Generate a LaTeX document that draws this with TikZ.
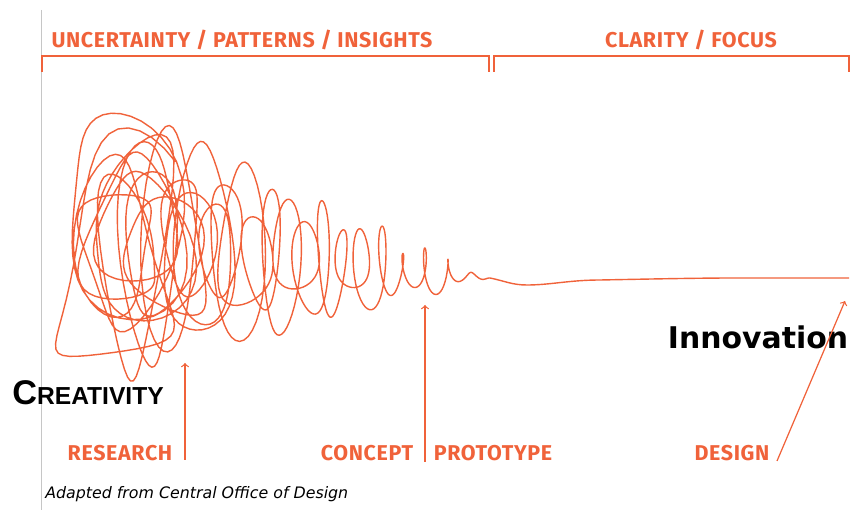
\documentclass[tikz,border=0pt]{standalone}
\usepackage{fontspec}
\setmainfont{Fira Sans}[LetterSpace=3]
\newfontfamily\verafont{DejaVu Sans}
\newfontfamily\arialfont{Liberation Sans}
\usetikzlibrary{positioning}
\definecolor{scribble}{RGB}{240,98,58}

\begin{document}
\begin{tikzpicture}[x=0.02cm, y=-0.02cm,
  stage/.style={text=scribble, inner sep=0pt, font=\bfseries\fontsize{12.2}{12}\selectfont},
  bracket/.style={draw=scribble, line width=0.8pt},
  pointer/.style={draw=scribble, line width=0.7pt, ->},
  squiggle/.style={draw=scribble, line width=0.8pt, line join=round},
  declare function={
    uu(\t)=\t/30;
    vv(\t)=1-uu(\t);
    ww(\t)=1-uu(\t)*uu(\t);
    xcen(\t)=118+372*uu(\t)*uu(\t);
    ycen(\t)=240+38*uu(\t)*uu(\t)+28*vv(\t)*vv(\t)*vv(\t)*sin(360*mod(0.23*\t,1));
    amp(\t)=140*ww(\t)*(1.35-0.35*ww(\t));
    wob(\t)=0.72+0.28*sin(360*mod(0.37*\t,1));
    wid(\t)=0.8+0.25*sin(360*mod(0.29*\t+0.2,1));
    scrx(\t)=xcen(\t)+amp(\t)*wid(\t)*(0.2+0.27*vv(\t)*vv(\t))*(cos(360*\t)+0.22*vv(\t)*cos(360*mod(2.3*\t,1)));
    scry(\t)=ycen(\t)-amp(\t)*wob(\t)*(0.85*sin(360*\t+20*vv(\t)*sin(360*mod(0.53*\t,1)))+0.2*vv(\t)*sin(360*mod(1.7*\t,1)));
  }]
  \useasboundingbox (0,0) rectangle (850,510);
  \draw[gray!45, line width=0.4pt] (41,10) -- (41,510);

  % phases on top
  \draw[bracket] (42,72) -- (42,56) -- (489,56) -- (489,72);
  \draw[bracket] (494,72) -- (494,56) -- (849,56) -- (849,72);
  \node[stage] (uncertain) at (242,40) {UNCERTAINTY / PATTERNS / INSIGHTS};
  \node[stage] (clarity) at (691,40) {CLARITY / FOCUS};

  % the squiggle, then the calm line
  \draw[squiggle] plot[domain=0.1:30, samples=1301, variable=\t] ({scrx(\t)},{scry(\t)});
  \coordinate (calm) at (490,278);
  \draw[squiggle] (calm)
    .. controls (505,281) and (512,285) .. (527,285)
    .. controls (550,285) and (570,280) .. (600,280)
    .. controls (650,279) and (700,278) .. (733,278) -- (849,278);

  % steps
  \node[stage] (research) at (120,453) {RESEARCH};
  \node[stage] (concept) at (367,453) {CONCEPT};
  \node[stage, right=0.4cm of concept] (prototype) {PROTOTYPE};
  \node[stage] (design) at (732,453) {DESIGN};

  \node[font=\verafont\bfseries\fontsize{17}{17}\selectfont] (innovation) at (758,337) {Innovation};
  \node[anchor=base west, inner sep=0pt, font=\arialfont\bfseries] (creativity) at (12,405)
    {\fontsize{19.5}{19}\selectfont C\fontsize{14}{14}\selectfont REATIVITY};
  \node[anchor=west, inner sep=0pt, font=\verafont\itshape\fontsize{9}{9}\selectfont] (source) at (45,494)
    {Adapted from Central Office of Design};

  \coordinate (researchfoot) at (185,460);
  \coordinate (researchtip) at (185,363);
  \coordinate (conceptfoot) at (425,462);
  \coordinate (concepttip) at (425,305);
  \coordinate (designfoot) at (777,461);
  \coordinate (designtip) at (845,301);
  \draw[pointer] (researchfoot) -- (researchtip);
  \draw[pointer] (conceptfoot) -- (concepttip);
  \draw[pointer] (designfoot) -- (designtip);
\end{tikzpicture}
\end{document}
